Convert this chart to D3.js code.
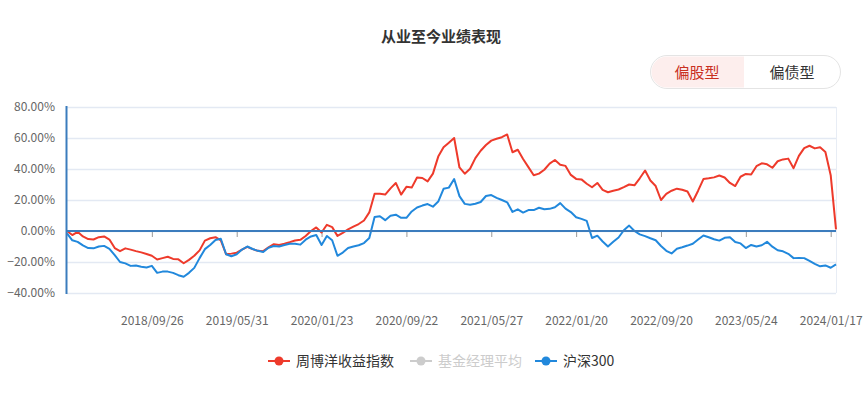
<!DOCTYPE html>
<html>
<head>
<meta charset="utf-8">
<script src="https://cdn.jsdelivr.net/npm/d3@7"></script>
<style>
  body { margin: 0; background: #fff; }
  text { font-family: "Microsoft YaHei", "Noto Sans CJK SC", sans-serif; }
</style>
</head>
<body>
<div id="chart"></div>
<script>
// tick labels of the x axis, and the sample index each one sits at
const tickLabels = ['2018/09/26', '2019/05/31', '2020/01/23', '2020/09/22', '2021/05/27', '2022/01/20', '2022/09/20', '2023/05/24', '2024/01/17'];
const tickIndex = [16, 32, 48, 64, 80, 96, 112, 128, 144];

const yTicks = [-40, -20, 0, 20, 40, 60, 80];

const legendNames = ['周博洋收益指数', '基金经理平均', '沪深300'];

// 周博洋收益指数 (%), sampled evenly from start to end
const managerValues = [
    0, -2.6, -0.5, -3.5, -5.2, -5.5, -4, -3.5, -5.5, -11,
    -13, -11.2, -12, -13, -13.8, -14.8, -16, -18.4, -17.5, -16.6,
    -18, -18.3, -20.8, -18.6, -16, -12.5, -6.2, -4.7, -4, -6,
    -15, -14.6, -14, -12, -10.2, -11.7, -12.8, -13, -10.5, -8.5,
    -9, -8.2, -7.2, -6.1, -5.7, -3.2, 0, 2.3, -1, 4,
    2.5, -3.2, -1.2, 1, 2.8, 4.5, 6.8, 12, 24, 24,
    23.5, 27.5, 31, 23.5, 28.5, 28, 34.5, 34.2, 32, 37,
    48, 54, 57, 60, 41, 37, 40.2, 47, 51.8, 55.5,
    58.3, 59.5, 60.5, 62.3, 50.8, 52.4, 46.5, 41.2, 36, 37,
    39.5, 43.5, 45.8, 42.8, 42, 36.2, 33.6, 33.3, 30.5, 28.2,
    31, 26.5, 25, 26, 26.8, 28.3, 30, 29.5, 34, 39,
    32.6, 29, 20, 24, 26, 27.3, 26.6, 25.5, 19, 26,
    33.5, 34, 34.6, 35.8, 34.5, 31, 29, 35, 36.8, 36.4,
    41.8, 43.7, 43, 40.8, 45, 46.2, 46.7, 40.5, 48.5, 53.5,
    55, 53.3, 54, 51, 36, 1
];

// 沪深300 (%), same sampling
const csi300Values = [
    -1.5, -6, -7, -9.3, -11, -11.2, -10, -9.6, -11.5, -15.5,
    -20, -20.9, -22.5, -22.3, -23, -23.5, -22.5, -27, -26.2, -26.2,
    -27, -28.5, -29.5, -27, -23.8, -17.5, -11.7, -9, -5.8, -5,
    -15, -16.3, -15, -12, -10, -11.6, -12.8, -13.5, -10.8, -9.7,
    -10, -9, -8.2, -8.2, -8.8, -5.6, -3.5, -2.6, -9, -3.2,
    -6, -16, -13.9, -11, -10, -9.2, -7.8, -4.5, 9, 9.5,
    7, 9.8, 10.5, 8.5, 8.5, 12.6, 15.2, 16.4, 17.4, 15.7,
    19, 27.2, 28, 33.5, 22.5, 17.5, 17, 17.6, 18.7, 22.6,
    23.2, 21.4, 20, 18.5, 12.3, 14, 11.9, 13.5, 13.5, 15,
    14, 14.3, 15.3, 18, 14.4, 12.2, 8.9, 7.8, 6.5, -4.5,
    -3, -6.8, -10, -7, -4.2, 0.5, 3.5, 0, -2.2, -3.3,
    -4.7, -6, -9.7, -12.8, -14.5, -11.5, -10.5, -9.4, -8.2, -5.5,
    -2.9, -4, -5.3, -6.2, -4.4, -4, -7.1, -8, -11, -9,
    -10, -9.2, -7, -10.1, -12.4, -13.1, -14.7, -17.5, -17.4, -17.5,
    -19.3, -21.2, -22.8, -22.2, -23.7, -21.5
];

const width = 865, height = 393;
const plot = { left: 67, right: 836, top: 107, bottom: 293 };

const svg = d3.select('#chart').append('svg')
    .attr('width', width)
    .attr('height', height);

// title
svg.append('text')
    .attr('x', 441).attr('y', 42)
    .attr('text-anchor', 'middle')
    .attr('font-size', 15).attr('font-weight', 'bold')
    .attr('fill', '#333')
    .text('从业至今业绩表现');

// toggle buttons
const btn = svg.append('g');
btn.append('rect')
    .attr('x', 650.5).attr('y', 55.5).attr('width', 190).attr('height', 33).attr('rx', 16.5)
    .attr('fill', '#fff').attr('stroke', '#e4e4e4');
btn.append('path')
    .attr('d', 'M744,56.5 L667,56.5 A15.5,15.5 0 0 0 667,87.5 L744,87.5 Z')
    .attr('fill', '#fdeeed');
btn.append('text')
    .attr('x', 697).attr('y', 78)
    .attr('text-anchor', 'middle').attr('font-size', 15)
    .attr('fill', '#c9301f')
    .text('偏股型');
btn.append('text')
    .attr('x', 792).attr('y', 78)
    .attr('text-anchor', 'middle').attr('font-size', 15)
    .attr('fill', '#333')
    .text('偏债型');

const x = d3.scaleLinear()
    .domain([0, managerValues.length - 1])
    .range([plot.left, plot.right]);

const y = d3.scaleLinear()
    .domain([-40, 80])
    .range([plot.bottom, plot.top]);

// grid
svg.append('g')
    .selectAll('line')
    .data(yTicks)
  .enter().append('line')
    .attr('x1', plot.left).attr('x2', plot.right)
    .attr('y1', d => y(d) + 0.5).attr('y2', d => y(d) + 0.5)
    .attr('stroke', '#e3e9f3').attr('stroke-width', 1.5);

svg.append('line')
    .attr('x1', plot.right + 0.5).attr('x2', plot.right + 0.5)
    .attr('y1', plot.top).attr('y2', plot.bottom)
    .attr('stroke', '#e8edf5');

// y axis labels
const yAxis = svg.append('g')
    .attr('transform', `translate(${plot.left},0)`)
    .call(d3.axisLeft(y).tickValues(yTicks).tickSize(0).tickPadding(12)
        .tickFormat(d => d3.format('.2f')(d) + '%'));
yAxis.select('.domain').remove();
yAxis.selectAll('text')
    .attr('font-size', 12).attr('fill', '#666')
    .style('font-family', '"Microsoft YaHei", "Noto Sans CJK SC", sans-serif');

// x tick marks on the zero line
const xTicks = svg.append('g')
    .attr('transform', `translate(0,${y(0)})`)
    .call(d3.axisBottom(x).tickValues(tickIndex).tickSizeInner(6).tickSizeOuter(0).tickFormat(''));
xTicks.select('.domain').remove();
xTicks.selectAll('line').attr('stroke', '#999');

// x labels along the bottom
const xLabels = svg.append('g')
    .attr('transform', `translate(0,${plot.bottom})`)
    .call(d3.axisBottom(x).tickValues(tickIndex).tickSize(0).tickPadding(23)
        .tickFormat((d, i) => tickLabels[i]));
xLabels.select('.domain').remove();
xLabels.selectAll('text')
    .attr('font-size', 12).attr('fill', '#666')
    .style('font-family', '"Microsoft YaHei", "Noto Sans CJK SC", sans-serif');

// lines
const line = d3.line()
    .x((d, i) => x(i))
    .y(d => y(d));

svg.append('path')
    .datum(managerValues)
    .attr('fill', 'none')
    .attr('stroke', '#ee3a2b')
    .attr('stroke-width', 2)
    .attr('stroke-linejoin', 'round')
    .attr('d', line);

svg.append('path')
    .datum(csi300Values)
    .attr('fill', 'none')
    .attr('stroke', '#2188dc')
    .attr('stroke-width', 2)
    .attr('stroke-linejoin', 'round')
    .attr('d', line);

// axis lines
svg.append('line')
    .attr('x1', plot.left).attr('x2', plot.right)
    .attr('y1', y(0)).attr('y2', y(0))
    .attr('stroke', '#3b7cbd').attr('stroke-width', 2);

svg.append('line')
    .attr('x1', plot.left - 0.5).attr('x2', plot.left - 0.5)
    .attr('y1', plot.top - 1).attr('y2', plot.bottom + 1)
    .attr('stroke', '#3b7cbd').attr('stroke-width', 2);

// legend
const legendColors = ['#ee3a2b', '#cccccc', '#2188dc'];
const legendText = ['#333', '#cccccc', '#333'];
const legendX = [268, 410, 535];

const legend = svg.append('g')
    .selectAll('g')
    .data(legendNames)
  .enter().append('g')
    .attr('transform', (d, i) => `translate(${legendX[i]},361)`);

legend.append('line')
    .attr('x1', 0).attr('x2', 22)
    .attr('stroke', (d, i) => legendColors[i]).attr('stroke-width', 2);
legend.append('circle')
    .attr('cx', 11).attr('r', 4.5)
    .attr('fill', (d, i) => legendColors[i]);
legend.append('text')
    .attr('x', 28).attr('y', 5)
    .attr('font-size', 14)
    .attr('fill', (d, i) => legendText[i])
    .text(d => d);
</script>
</body>
</html>
